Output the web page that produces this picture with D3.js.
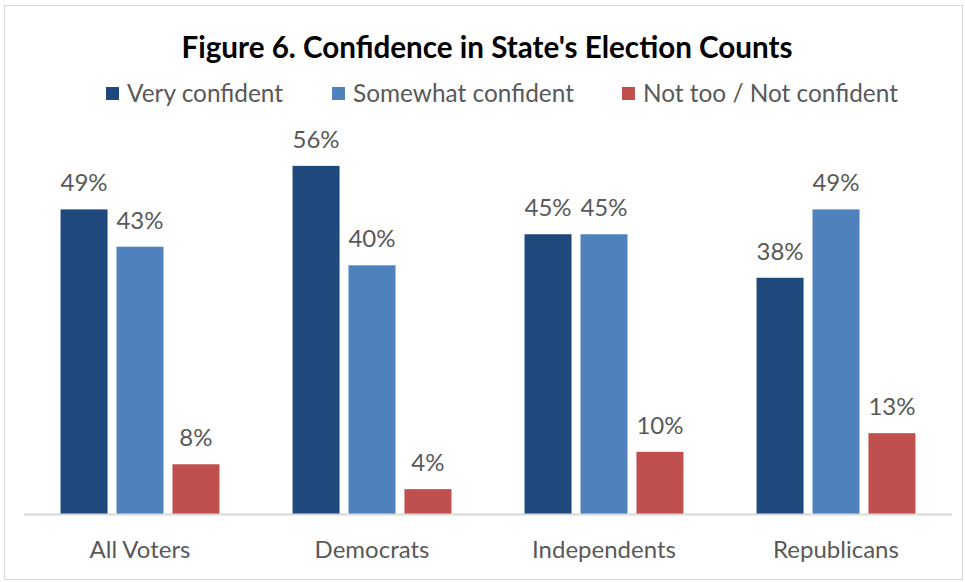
<!DOCTYPE html>
<html>
<head>
<meta charset="utf-8">
<script src="https://cdn.jsdelivr.net/npm/d3@7"></script>
<style>
  html, body { margin: 0; padding: 0; background: #fff; }
  svg { display: block; }
  text { font-family: Lato, "Open Sans", sans-serif; }
</style>
</head>
<body>
<svg id="chart" width="965" height="582"></svg>
<script>
// Survey groups and the share of each group by confidence level (%)
const categories = ["All Voters", "Democrats", "Independents", "Republicans"];
const seriesNames = ["Very confident", "Somewhat confident", "Not too / Not confident"];
const veryConfident = [49, 56, 45, 38];
const somewhatConfident = [43, 40, 45, 49];
const notConfident = [8, 4, 10, 13];
const seriesColors = ["#1f497d", "#4f81bd", "#c0504d"];
const titleText = "Figure 6. Confidence in State's Election Counts";

const seriesValues = [veryConfident, somewhatConfident, notConfident];
const rows = categories.map((c, i) => ({
  category: c,
  values: seriesNames.map((s, j) => ({ series: s, idx: j, value: seriesValues[j][i] }))
}));

const svg = d3.select("#chart");
const W = 965, H = 582;

// outer frame
svg.append("rect")
  .attr("x", 4.5).attr("y", 5.5)
  .attr("width", W - 7).attr("height", H - 8)
  .attr("fill", "#fff").attr("stroke", "#d9d9d9").attr("stroke-width", 1);

const plot = { left: 24, right: 952, top: 141, bottom: 514 };

const x0 = d3.scaleBand()
  .domain(categories)
  .range([plot.left, plot.right])
  .paddingInner(0.315).paddingOuter(0.1575);

const x1 = d3.scaleBand()
  .domain(seriesNames)
  .range([0, x0.bandwidth()])
  .paddingInner(0.16);

const y = d3.scaleLinear().domain([0, 60]).range([plot.bottom, plot.top]);

// title
svg.append("text")
  .attr("x", 487).attr("y", 58)
  .attr("text-anchor", "middle")
  .attr("font-size", 29.6).attr("font-weight", 700)
  .attr("fill", "#000")
  .text(titleText);

// legend
const legendX = [106, 332, 622];
const legend = svg.append("g").selectAll("g")
  .data(seriesNames).join("g")
  .attr("transform", (d, i) => `translate(${legendX[i]},87)`);
legend.append("rect").attr("width", 13).attr("height", 13)
  .attr("fill", (d, i) => seriesColors[i]);
legend.append("text")
  .attr("x", 21).attr("y", 15)
  .attr("font-size", 24.4).attr("fill", "#595959")
  .text(d => d);

// bars
const groups = svg.append("g").selectAll("g")
  .data(rows).join("g")
  .attr("transform", d => `translate(${x0(d.category)},0)`);

groups.selectAll("rect")
  .data(d => d.values).join("rect")
  .attr("x", d => x1(d.series))
  .attr("width", x1.bandwidth())
  .attr("y", d => y(d.value))
  .attr("height", d => y(0) - y(d.value))
  .attr("fill", d => seriesColors[d.idx]);

groups.selectAll("text.val")
  .data(d => d.values).join("text")
  .attr("class", "val")
  .attr("x", d => x1(d.series) + x1.bandwidth() / 2)
  .attr("y", d => y(d.value) - 18)
  .attr("text-anchor", "middle")
  .attr("font-size", 24).attr("fill", "#595959")
  .text(d => d.value + "%");

// category axis
const xAxis = svg.append("g")
  .attr("transform", `translate(0,${plot.bottom})`)
  .call(d3.axisBottom(x0).tickSize(0).tickPadding(0));
xAxis.select(".domain").attr("stroke", "#d9d9d9").attr("stroke-width", 2)
  .attr("d", `M${plot.left},0.5H${plot.right}`);
xAxis.selectAll(".tick text")
  .attr("dy", 0).attr("y", 44)
  .attr("font-family", "Lato, 'Open Sans', sans-serif")
  .attr("font-size", 24).attr("fill", "#595959");
</script>
</body>
</html>
